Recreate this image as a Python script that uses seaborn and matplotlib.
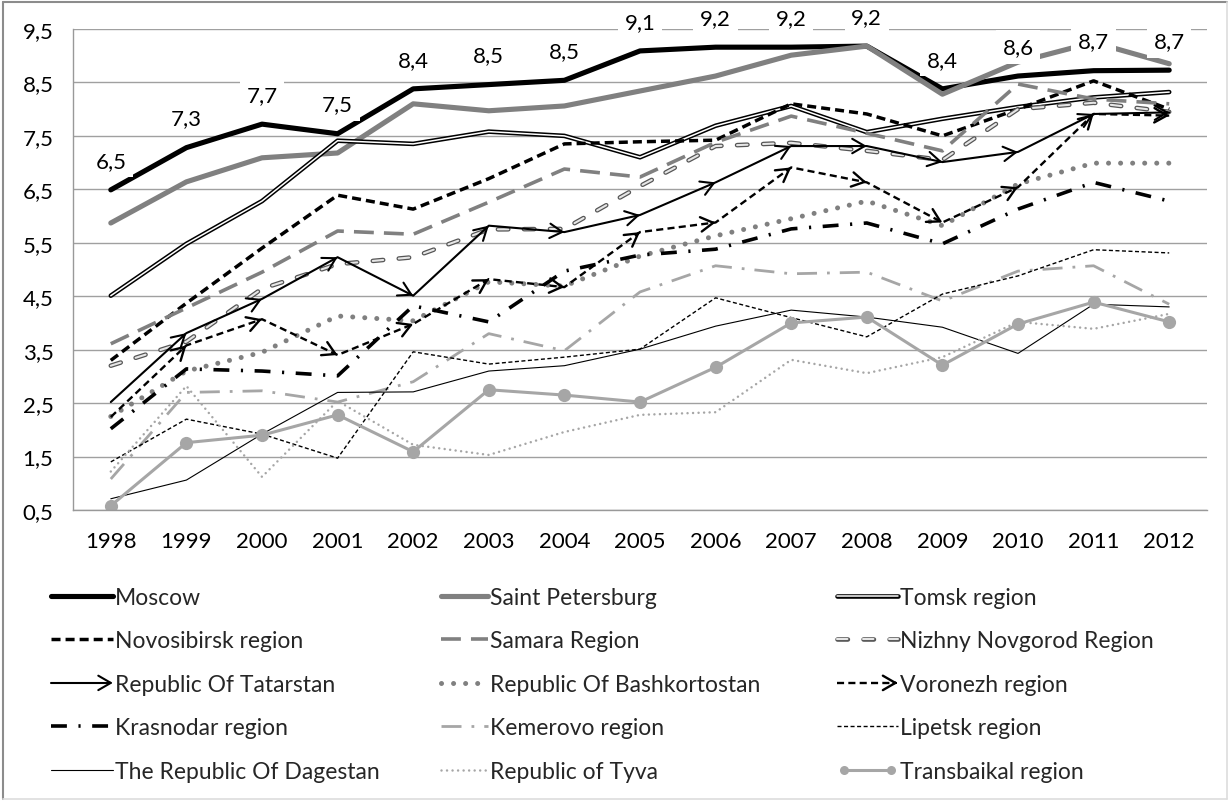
import numpy as np
import pandas as pd
import matplotlib
matplotlib.use("Agg")
import matplotlib.pyplot as plt
import seaborn as sns
from matplotlib import patheffects as pe
from matplotlib.lines import Line2D
from matplotlib.patches import FancyArrowPatch
from matplotlib.legend_handler import HandlerBase, HandlerLine2D
from matplotlib.ticker import FuncFormatter

# ---------------- data ----------------
years = [1998, 1999, 2000, 2001, 2002, 2003, 2004, 2005, 2006, 2007, 2008, 2009, 2010, 2011, 2012]
moscow = [6.49, 7.28, 7.72, 7.54, 8.38, 8.46, 8.54, 9.09, 9.16, 9.16, 9.18, 8.38, 8.62, 8.72, 8.73]
saint_petersburg = [5.87, 6.64, 7.09, 7.18, 8.10, 7.97, 8.06, 8.34, 8.62, 9.01, 9.18, 8.28, 8.88, 9.25, 8.85]
tomsk = [4.51, 5.48, 6.28, 7.41, 7.35, 7.58, 7.50, 7.10, 7.69, 8.06, 7.57, 7.82, 8.04, 8.22, 8.32]
novosibirsk = [3.30, 4.37, 5.40, 6.39, 6.13, 6.70, 7.35, 7.39, 7.42, 8.10, 7.91, 7.50, 8.00, 8.53, 8.00]
samara = [3.61, 4.28, 4.95, 5.72, 5.66, 6.26, 6.88, 6.73, 7.38, 7.87, 7.55, 7.22, 8.47, 8.19, 8.10]
nizhny = [3.20, 3.65, 4.64, 5.10, 5.23, 5.75, 5.76, 6.56, 7.31, 7.37, 7.22, 7.05, 8.00, 8.12, 7.95]
tatarstan = [2.52, 3.81, 4.45, 5.23, 4.51, 5.82, 5.70, 6.02, 6.63, 7.31, 7.31, 7.01, 7.20, 7.91, 7.94]
bashkortostan = [2.25, 3.10, 3.45, 4.13, 4.04, 4.77, 4.69, 5.25, 5.63, 5.95, 6.28, 5.82, 6.60, 6.99, 6.99]
voronezh = [2.24, 3.58, 4.07, 3.40, 3.98, 4.82, 4.67, 5.70, 5.88, 6.91, 6.63, 5.88, 6.54, 7.91, 7.88]
krasnodar = [2.02, 3.14, 3.10, 3.01, 4.32, 4.02, 4.97, 5.27, 5.38, 5.76, 5.87, 5.48, 6.13, 6.63, 6.28]
kemerovo = [1.08, 2.70, 2.73, 2.52, 2.90, 3.80, 3.48, 4.58, 5.07, 4.92, 4.95, 4.41, 4.97, 5.07, 4.35]
lipetsk = [1.40, 2.20, 1.92, 1.47, 3.46, 3.23, 3.36, 3.51, 4.47, 4.10, 3.74, 4.54, 4.88, 5.37, 5.31]
dagestan = [0.71, 1.06, 1.92, 2.70, 2.71, 3.10, 3.20, 3.51, 3.94, 4.24, 4.11, 3.92, 3.43, 4.35, 4.30]
tyva = [1.22, 2.82, 1.12, 2.54, 1.72, 1.53, 1.96, 2.28, 2.33, 3.31, 3.06, 3.36, 4.02, 3.89, 4.17]
transbaikal = [0.58, 1.76, 1.90, 2.28, 1.59, 2.75, 2.65, 2.52, 3.17, 4.00, 4.11, 3.21, 3.98, 4.39, 4.02]

names = ["Moscow", "Saint Petersburg", "Tomsk region", "Novosibirsk region", "Samara Region",
         "Nizhny Novgorod Region", "Republic Of Tatarstan", "Republic Of Bashkortostan",
         "Voronezh region", "Krasnodar region", "Kemerovo region", "Lipetsk region",
         "The Republic Of Dagestan", "Republic of Tyva", "Transbaikal region"]
series = [moscow, saint_petersburg, tomsk, novosibirsk, samara, nizhny, tatarstan, bashkortostan,
          voronezh, krasnodar, kemerovo, lipetsk, dagestan, tyva, transbaikal]
y_ticks = [0.5, 1.5, 2.5, 3.5, 4.5, 5.5, 6.5, 7.5, 8.5, 9.5]

# ---------------- styles ----------------
G1 = "#808080"
G2 = "#a6a6a6"
FS = 16
LFS = 16.5
styles = {
    "Moscow": dict(color="black", lw=3.7, solid_joinstyle="round"),
    "Saint Petersburg": dict(color=G1, lw=3.7, solid_joinstyle="round"),
    "Tomsk region": dict(color="white", lw=1.1,
                         path_effects=[pe.Stroke(linewidth=3.3, foreground="black"), pe.Normal()]),
    "Novosibirsk region": dict(color="black", lw=2.5, linestyle=(0, (2.6, 1.45))),
    "Samara Region": dict(color=G1, lw=2.6, linestyle=(0, (5.5, 2.8))),
    "Nizhny Novgorod Region": dict(color="#e6e6e6", lw=1.5, linestyle=(0, (5.0, 7.5)),
                                   dash_capstyle="round",
                                   path_effects=[pe.Stroke(linewidth=3.3, foreground="#555555"), pe.Normal()]),
    "Republic Of Tatarstan": dict(color="black", lw=1.5),
    "Republic Of Bashkortostan": dict(color=G1, lw=3.6, linestyle=(0, (0.01, 2.4)), dash_capstyle="round"),
    "Voronezh region": dict(color="black", lw=1.7, linestyle=(0, (3.0, 1.8))),
    "Krasnodar region": dict(color="black", lw=2.6, linestyle=(0, (4.4, 3.2, 0.6, 3.2))),
    "Kemerovo region": dict(color=G2, lw=2.0, linestyle=(0, (7.2, 3.6, 1.0, 3.6))),
    "Lipetsk region": dict(color="black", lw=1.0, linestyle=(0, (2.9, 1.8))),
    "The Republic Of Dagestan": dict(color="black", lw=0.8),
    "Republic of Tyva": dict(color=G2, lw=1.8, linestyle=(0, (0.01, 2.2)), dash_capstyle="round"),
    "Transbaikal region": dict(color=G2, lw=2.2, marker="o", markersize=9.5, markeredgewidth=0),
}
arrow_series = {"Republic Of Tatarstan", "Voronezh region"}

W, H = 1230, 803
sns.set_style("white")
plt.rcParams["font.family"] = ["Lato", "DejaVu Sans"]

fig = plt.figure(figsize=(W / 100, H / 100), dpi=100)
ax = fig.add_axes([73 / W, 1 - 511 / H, (1207 - 73) / W, (511 - 30) / H])

ARROW = "->,head_length=0.45,head_width=0.26"


def add_arrows(ax, xs, ys, color, lw):
    for i in range(1, len(xs)):
        x0, y0, x1, y1 = xs[i - 1], ys[i - 1], xs[i], ys[i]
        ax.annotate("", xy=(x1, y1), xytext=(x1 - 0.05 * (x1 - x0), y1 - 0.05 * (y1 - y0)),
                    arrowprops=dict(arrowstyle=ARROW, color=color, lw=lw, shrinkA=0, shrinkB=0,
                                    mutation_scale=20, linestyle="solid"))


for name, vals in zip(names, series):
    st = styles[name]
    sns.lineplot(x=years, y=vals, ax=ax, **st)
    if name in arrow_series:
        add_arrows(ax, years, vals, st["color"], st["lw"])

# data labels for Moscow
for x, v in zip(years, moscow):
    ax.annotate(f"{v:.1f}".replace(".", ","), xy=(x, v), xytext=(0, 21), textcoords="offset points",
                ha="center", va="center", fontsize=FS, color="black", zorder=20,
                bbox=dict(boxstyle="square,pad=0.3", fc="white", ec="none"))

# axes
ax.set_xlim(1997.5, 2012.5)
ax.set_ylim(0.5, 9.5)
ax.set_yticks(y_ticks)
ax.yaxis.set_major_formatter(FuncFormatter(lambda v, p: f"{v:.1f}".replace(".", ",")))
ax.set_xticks(years)
ax.set_xticklabels([str(y) for y in years])
ax.set_xticks(np.arange(1997.5, 2013.0, 1.0), minor=True)
ax.tick_params(axis="x", which="major", length=0, pad=15, labelsize=FS, colors="black")
ax.tick_params(axis="x", which="minor", length=6, width=1, color="#999999", direction="out")
ax.tick_params(axis="y", which="major", length=6, width=1, color="#999999", pad=8, labelsize=FS,
               labelcolor="black")
ax.grid(axis="y", color="#a0a0a0", lw=1.0)
ax.grid(axis="x", visible=False)
ax.set_axisbelow(True)
for s in ["top", "right"]:
    ax.spines[s].set_visible(False)
for s in ["left", "bottom"]:
    ax.spines[s].set_color("#999999")
    ax.spines[s].set_linewidth(1.0)
ax.set_xlabel("")
ax.set_ylabel("")
if ax.get_legend():
    ax.get_legend().remove()


# ---------------- legend ----------------
class ArrowHandler(HandlerBase):
    def create_artists(self, legend, orig_handle, xdescent, ydescent, width, height, fontsize, trans):
        y = height / 2 - ydescent
        x0 = -xdescent
        x1 = x0 + width
        ln = Line2D([x0, x1 - 2], [y, y])
        ln.update_from(orig_handle)
        ln.set_transform(trans)
        arr = FancyArrowPatch((x1 - 3, y), (x1, y), arrowstyle=ARROW, mutation_scale=20,
                              color=orig_handle.get_color(), lw=orig_handle.get_linewidth(),
                              shrinkA=0, shrinkB=0, transform=trans)
        return [ln, arr]


handles = {}
for name in names:
    st = dict(styles[name])
    if name == "Transbaikal region":
        st["markersize"] = 6.5
    handles[name] = Line2D([], [], **st)

hmap = {}
for name in arrow_series:
    hmap[handles[name]] = ArrowHandler()
hmap[handles["Transbaikal region"]] = HandlerLine2D(numpoints=2)

columns = [
    (51, 2.7, ["Moscow", "Novosibirsk region", "Republic Of Tatarstan", "Krasnodar region",
               "The Republic Of Dagestan"]),
    (441, 2.05, ["Saint Petersburg", "Samara Region", "Republic Of Bashkortostan", "Kemerovo region",
                 "Republic of Tyva"]),
    (837, 2.65, ["Tomsk region", "Nizhny Novgorod Region", "Voronezh region", "Lipetsk region",
                 "Transbaikal region"]),
]
for xpix, hl, col in columns:
    fig.legend([handles[n] for n in col], col, loc="upper left",
               bbox_to_anchor=(xpix / W, 1 - 588 / H), bbox_transform=fig.transFigure,
               frameon=False, borderpad=0, borderaxespad=0, handlelength=hl, handletextpad=0.1,
               labelspacing=0.98, fontsize=LFS, handler_map=hmap)

# figure frame
fig.add_artist(Line2D([3 / W, 3 / W], [1 - 800 / H, 1 - 3 / H], transform=fig.transFigure,
                      color="#8c8c8c", lw=1.5))
fig.add_artist(Line2D([3 / W, 1227 / W], [1 - 3 / H, 1 - 3 / H], transform=fig.transFigure,
                      color="#8c8c8c", lw=1.5))
fig.add_artist(Line2D([1227 / W, 1227 / W], [1 - 800 / H, 1 - 3 / H], transform=fig.transFigure,
                      color="#dddddd", lw=1.2))
fig.add_artist(Line2D([3 / W, 1227 / W], [1 - 800 / H, 1 - 800 / H], transform=fig.transFigure,
                      color="#dddddd", lw=1.2))

fig.savefig("out.png", dpi=100)
